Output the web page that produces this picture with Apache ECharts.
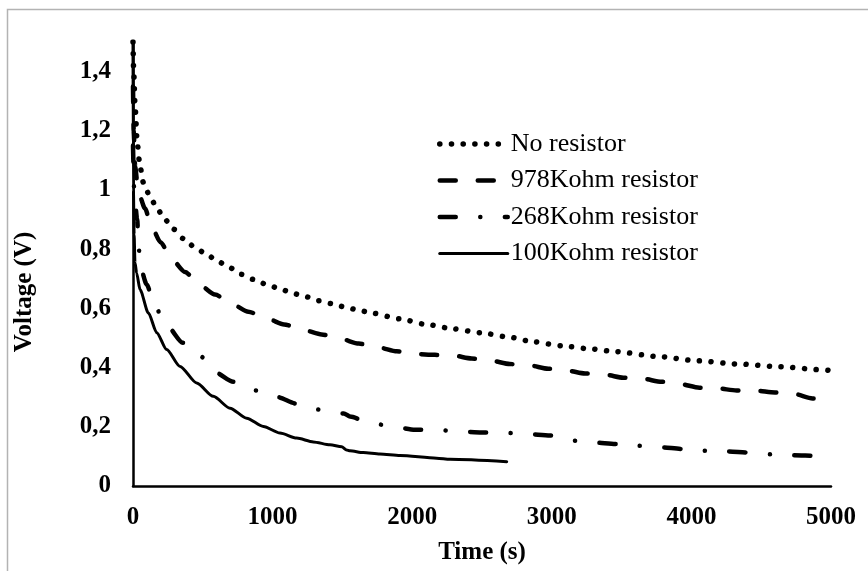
<!DOCTYPE html>
<html>
<head>
<meta charset="utf-8">
<script src="https://cdn.jsdelivr.net/npm/echarts@6/dist/echarts.min.js"></script>
<style>html,body{margin:0;padding:0;background:#fff}#c{width:868px;height:571px}</style>
</head>
<body>
<div id="c"></div>
<script>
// ---- data ----
const seriesNames = ['No resistor', '978Kohm resistor', '268Kohm resistor', '100Kohm resistor'];
const xTickValues = [0, 1000, 2000, 3000, 4000, 5000];
const yTickLabels = ['0', '0,2', '0,4', '0,6', '0,8', '1', '1,2', '1,4'];
const xAxisTitle = 'Time (s)';
const yAxisTitle = 'Voltage (V)';

const tNoRes = [0, 5, 15, 30, 50, 74, 117, 165, 222, 289, 361, 437, 523, 604, 690, 776, 862, 958, 1048, 1144, 1234, 1330, 1426, 1521, 1617, 1712, 1908, 2099, 2295, 2486, 2681, 2872, 3068, 3259, 3455, 3751, 4042, 4339, 4630, 4926, 5000];
const vNoRes = [1.5, 1.40, 1.28, 1.16, 1.08, 1.026, 0.983, 0.945, 0.904, 0.868, 0.836, 0.809, 0.784, 0.760, 0.738, 0.715, 0.698, 0.681, 0.667, 0.651, 0.640, 0.626, 0.616, 0.604, 0.594, 0.584, 0.565, 0.546, 0.531, 0.518, 0.504, 0.487, 0.474, 0.464, 0.454, 0.438, 0.423, 0.412, 0.403, 0.393, 0.390];

const t978 = [0, 5, 15, 38, 86, 134, 198, 277, 372, 480, 587, 714, 826, 962, 1082, 1220, 1351, 1488, 1617, 1757, 1889, 2020, 2163, 2290, 2426, 2557, 2700, 2832, 2975, 3107, 3238, 3381, 3512, 3644, 3787, 3913, 4057, 4181, 4324, 4456, 4599, 4730, 4868, 5000];
const v978 = [1.35, 1.20, 1.08, 0.992, 0.938, 0.874, 0.823, 0.766, 0.723, 0.678, 0.647, 0.613, 0.589, 0.565, 0.546, 0.527, 0.512, 0.497, 0.481, 0.468, 0.455, 0.446, 0.443, 0.441, 0.431, 0.424, 0.412, 0.408, 0.396, 0.390, 0.380, 0.376, 0.366, 0.363, 0.352, 0.345, 0.332, 0.330, 0.323, 0.322, 0.316, 0.312, 0.296, 0.292];

const t268 = [0, 10, 30, 40, 50, 98, 158, 245, 356, 485, 587, 719, 874, 1029, 1172, 1332, 1510, 1554, 1698, 1860, 2020, 2175, 2338, 2497, 2653, 2815, 2987, 3130, 3293, 3465, 3608, 3775, 3937, 4097, 4253, 4415, 4575, 4735, 4897, 5000];
const v268 = [1.15, 0.98, 0.90, 0.82, 0.743, 0.681, 0.604, 0.540, 0.484, 0.438, 0.384, 0.352, 0.323, 0.301, 0.278, 0.258, 0.245, 0.235, 0.213, 0.201, 0.190, 0.190, 0.184, 0.181, 0.180, 0.176, 0.171, 0.154, 0.147, 0.142, 0.136, 0.131, 0.125, 0.119, 0.117, 0.113, 0.107, 0.104, 0.102, 0.097];

const t100 = [0, 3, 8, 14, 26, 50, 110, 170, 241, 337, 456, 575, 695, 814, 934, 1053, 1172, 1292, 1411, 1495, 1530, 1554, 1650, 1769, 1913, 2175, 2271, 2677];
const v100 = [1.5, 1.0, 0.85, 0.755, 0.72, 0.664, 0.585, 0.518, 0.461, 0.404, 0.348, 0.303, 0.263, 0.229, 0.201, 0.179, 0.162, 0.149, 0.139, 0.133, 0.122, 0.119, 0.113, 0.108, 0.103, 0.094, 0.090, 0.082];

// ---- chart ----
const zip = (a, b) => a.map((x, i) => [x, b[i]]);
const FONT = '"Liberation Serif", "Times New Roman", serif';
const styles = [
  { width: 5.5, type: [0.1, 11.6], cap: 'round', join: 'round' },
  { width: 4.5, type: [16, 22], cap: 'round', join: 'round' },
  { width: 4.5, type: [16, 24.5, 0.1, 24.5], cap: 'round', join: 'round' },
  { width: 3, type: 'solid', cap: 'round', join: 'round' }
];
const datasets = [zip(tNoRes, vNoRes), zip(t978, v978), zip(t268, v268), zip(t100, v100)];

const chart = echarts.init(document.getElementById('c'), null, { renderer: 'canvas' });
chart.setOption({
  animation: false,
  backgroundColor: '#fff',
  textStyle: { fontFamily: FONT, color: '#000' },
  graphic: [{
    type: 'rect', left: 5, top: 7, shape: { width: 880, height: 580 },
    style: { fill: 'none', stroke: '#b3b3b3', lineWidth: 1.5 }, silent: true
  }, {
    type: 'text', x: 25, y: 292, rotation: Math.PI / 2, silent: true,
    style: { text: yAxisTitle, fontFamily: FONT, fontSize: 25, fontWeight: 'bold', fill: '#000', align: 'center', verticalAlign: 'middle' }
  }],
  grid: { left: 133, right: 37, top: 42, bottom: 85 },
  legend: {
    orient: 'vertical', left: 432, top: 126,
    itemWidth: 68, itemHeight: 10, itemGap: 10.5,
    itemStyle: { opacity: 0 },
    textStyle: { fontFamily: FONT, fontSize: 26, color: '#000', padding: [0, 0, 0, -2] },
    data: seriesNames.map((n, i) => ({
      name: n,
      itemStyle: { opacity: 0 },
      lineStyle: Object.assign({ color: '#000', opacity: 1 }, styles[i])
    }))
  },
  xAxis: {
    type: 'value', min: 0, max: 5000, interval: 1000,
    name: xAxisTitle, nameLocation: 'middle', nameGap: 54,
    nameTextStyle: { fontFamily: FONT, fontSize: 25, fontWeight: 'bold', color: '#000' },
    axisLine: { show: true, onZero: false, lineStyle: { color: '#000', width: 2.5 } },
    axisTick: { show: false },
    splitLine: { show: false },
    axisLabel: {
      margin: 19, fontFamily: FONT, fontSize: 25, fontWeight: 'bold', color: '#000',
      formatter: v => xTickValues.includes(v) ? String(v) : ''
    }
  },
  yAxis: {
    type: 'value', min: 0, max: 1.5, interval: 0.2,
    axisLine: { show: true, onZero: false, lineStyle: { color: '#000', width: 2.5 } },
    axisTick: { show: false },
    splitLine: { show: false },
    axisLabel: {
      margin: 22, fontFamily: FONT, fontSize: 25, fontWeight: 'bold', color: '#000',
      showMaxLabel: false,
      formatter: v => { const i = Math.round(v / 0.2); return (Math.abs(v - i * 0.2) < 1e-6 && yTickLabels[i]) ? yTickLabels[i] : ''; }
    }
  },
  series: seriesNames.map((n, i) => ({
    name: n, type: 'line', data: datasets[i],
    showSymbol: false, symbol: 'none', smooth: 0.25, smoothMonotone: 'x',
    lineStyle: Object.assign({ color: '#000' }, styles[i]),
    itemStyle: { color: '#000' },
    z: 3 + i
  }))
});
</script>
</body>
</html>
